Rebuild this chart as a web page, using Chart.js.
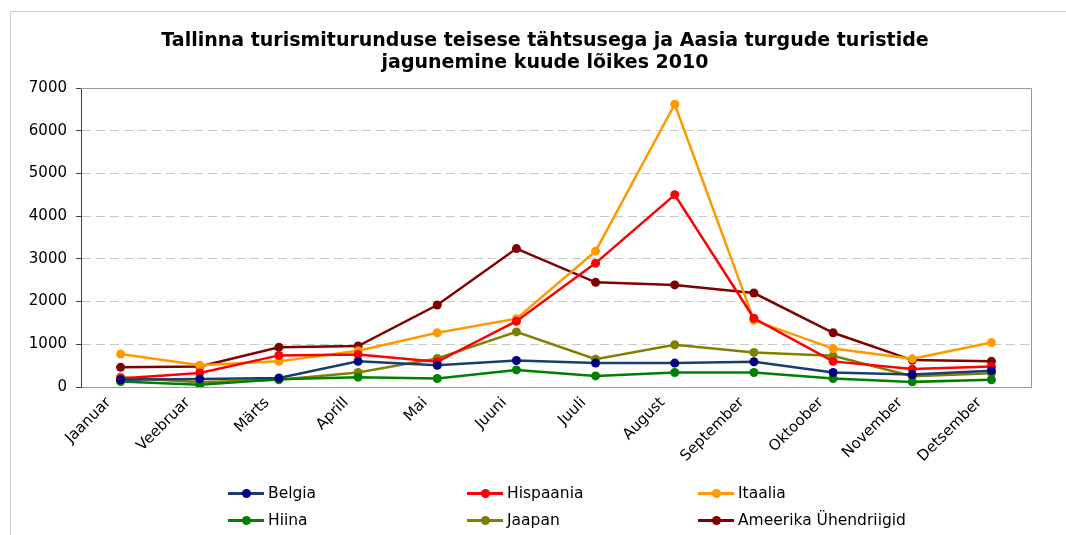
<!DOCTYPE html>
<html><head><meta charset="utf-8">
<script src="https://cdn.jsdelivr.net/npm/chart.js@4.4.1/dist/chart.umd.min.js"></script>
<style>
html,body{margin:0;padding:0;background:#fff;}
#wrap{position:relative;width:1066px;height:535px;overflow:hidden;font-family:"DejaVu Sans",Verdana,sans-serif;}
#frame{position:absolute;left:10px;top:11px;width:1100px;height:600px;border:1px solid #cfcfcf;box-sizing:border-box;}
#c{position:absolute;left:0;top:0;}
.lg{position:absolute;display:flex;align-items:center;font-size:15.5px;color:#000;white-space:nowrap;}
.lg .mk{position:relative;width:36px;height:14px;margin-right:4px;}
.lg .mk .ln{position:absolute;left:0;right:0;top:6px;height:3px;}
.lg .mk .dt{position:absolute;left:14px;top:3px;width:9px;height:9px;border-radius:50%;}
</style></head>
<body><div id="wrap"><div id="frame"></div><canvas id="c" width="1066" height="535"></canvas><div id="legend"></div></div>
<script>
const months = ["Jaanuar","Veebruar","Märts","Aprill","Mai","Juuni","Juuli","August","September","Oktoober","November","Detsember"];
const belgia    = [170, 190, 210, 600, 510, 620, 560, 560, 590, 340, 290, 380];
const hispaania = [200, 330, 740, 760, 590, 1540, 2900, 4500, 1610, 600, 420, 480];
const itaalia   = [770, 510, 600, 850, 1270, 1600, 3180, 6620, 1560, 900, 660, 1040];
const hiina     = [130, 50, 180, 230, 200, 400, 260, 340, 340, 200, 120, 170];
const jaapan    = [230, 110, 170, 340, 670, 1290, 650, 990, 810, 730, 250, 320];
const usa       = [460, 480, 930, 960, 1920, 3240, 2450, 2390, 2200, 1270, 630, 600];
const seriesNames = ["Belgia","Hispaania","Itaalia","Hiina","Jaapan","Ameerika Ühendriigid"];
const yTicks = [0,1000,2000,3000,4000,5000,6000,7000];
const titleLines = ["Tallinna turismiturunduse teisese tähtsusega ja Aasia turgude turistide","jagunemine kuude lõikes 2010"];

const lineColors = ["#1a3d6e","#ff0000","#ff9900","#008000","#808000","#800000"];
const dotColors  = ["#000080","#ff0000","#ff9900","#008000","#808000","#800000"];
const values = [belgia, hispaania, itaalia, hiina, jaapan, usa];
const FONT = '"DejaVu Sans", Verdana, sans-serif';

const datasets = seriesNames.map((n,i)=>({
  label:n, data:values[i], borderColor:lineColors[i], backgroundColor:dotColors[i],
  pointBackgroundColor:dotColors[i], pointBorderColor:dotColors[i], pointBorderWidth:0,
  borderWidth:2.5, pointRadius:4.5, pointHoverRadius:4.5, tension:0, fill:false
}));

const framePlugin = {
  id:'frame',
  afterLayout(chart){
    // centre the title block over x = 545 like the reference
    const t = chart.titleBlock;
    if (t) { const w = t.right - t.left; t.left = 545 - w/2; t.right = 545 + w/2; }
  },
  afterDraw(chart){
    const a = chart.chartArea, ctx = chart.ctx;
    ctx.save();
    ctx.strokeStyle = '#9a9a9a'; ctx.lineWidth = 1;
    ctx.beginPath();
    ctx.moveTo(a.left, a.top+0.5); ctx.lineTo(a.right+0.5, a.top+0.5); ctx.lineTo(a.right+0.5, a.bottom);
    ctx.stroke();
    ctx.restore();
  }
};

const chart = new Chart(document.getElementById('c'), {
  type:'line',
  data:{labels:months, datasets},
  options:{
    responsive:false, animation:false,
    layout:{padding:{top:30,right:35,bottom:40,left:0}},
    plugins:{
      legend:{display:false},
      tooltip:{enabled:false},
      title:{display:true, text:titleLines, color:'#000',
        font:{family:FONT, size:19, weight:'bold', lineHeight:22/19},
        padding:{top:0,bottom:14}}
    },
    scales:{
      x:{
        offset:true,
        grid:{display:false, drawTicks:false},
        border:{display:true,color:'#9a9a9a',width:1},
        ticks:{color:'#000', minRotation:45, maxRotation:45, padding:7, labelOffset:-12, autoSkip:false,
          font:{family:FONT, size:15}},
        afterFit(s){ s.height = 108; }
      },
      y:{
        min:0, max:7000,
        afterBuildTicks(s){ s.ticks = yTicks.map(v=>({value:v})); },
        grid:{color:(c)=> (c.tick && (c.tick.value===0 || c.tick.value===7000)) ? 'rgba(0,0,0,0)' : '#c8c8c8',
          tickColor:'#404040', tickLength:5, tickBorderDash:[], lineWidth:1},
        border:{display:true,color:'#404040',width:1,dash:[9,5]},
        ticks:{color:'#000', padding:9, font:{family:FONT, size:15}, callback:(v)=>String(v)},
        afterFit(s){ s.width = 81; }
      }
    }
  },
  plugins:[framePlugin]
});

// legend (HTML, built from the series arrays)
const lg = document.getElementById('legend');
const colX = [228, 467, 698];
const rowY = [484, 511];
seriesNames.forEach((n,i)=>{
  const d = document.createElement('div');
  d.className='lg';
  d.style.left = colX[i%3]+'px';
  d.style.top = rowY[Math.floor(i/3)]+'px';
  d.innerHTML = '<div class="mk"><div class="ln" style="background:'+lineColors[i]+'"></div><div class="dt" style="background:'+dotColors[i]+'"></div></div><span>'+n+'</span>';
  lg.appendChild(d);
});
</script></body></html>
